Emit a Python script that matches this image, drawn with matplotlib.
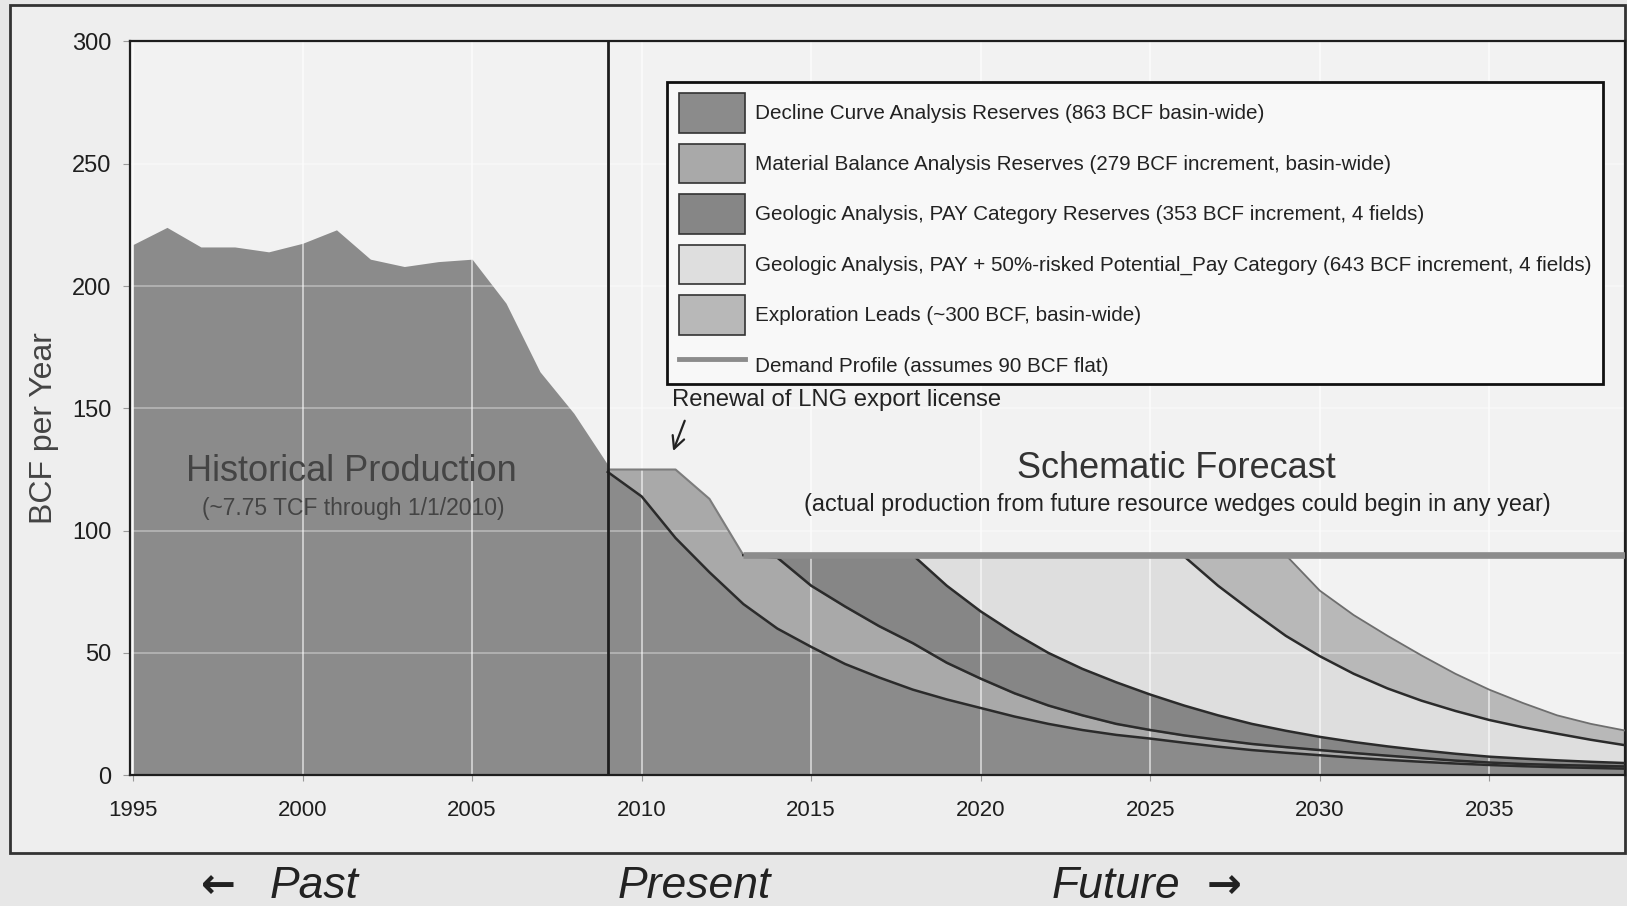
import numpy as np
import matplotlib
matplotlib.use("Agg")
import matplotlib.pyplot as plt
from matplotlib.patches import Patch, Rectangle
from matplotlib.lines import Line2D

NARROW = ["Liberation Sans Narrow", "Liberation Sans", "DejaVu Sans"]
SANS = ["Liberation Sans", "DejaVu Sans"]
plt.rcParams["font.family"] = SANS

# --- data (BCF per year) ---
hist_years = np.arange(1995, 2010)
hist_prod = [217, 224, 216, 216, 214, 217.5, 223, 211, 208, 210, 211, 193, 165, 148, 127]

fc_years = np.arange(2009, 2040)
# cumulative tops of each stacked wedge
decline_top = [124, 114, 97, 83, 70, 60, 52.5, 45.5, 40, 35, 31, 27.5, 24, 21, 18.5, 16.5,
               15, 13.3, 11.7, 10.3, 9.2, 8.2, 7.2, 6.3, 5.5, 4.8, 4.2, 3.7, 3.3, 3.0, 2.7]
matbal_top = [125, 125, 125, 113, 90, 89, 77.5, 69, 61, 54, 46, 39.5, 33.5, 28.5, 24.5, 21,
              18.5, 16.3, 14.5, 12.8, 11.5, 10.3, 9.1, 8.0, 7.0, 6.0, 5.2, 4.6, 4.2, 3.9, 3.6]
pay_top = [125, 125, 125, 113, 90, 90, 90, 90, 90, 90, 77.5, 67, 58, 50, 43.5, 38,
           33, 28.5, 24.5, 21, 18.2, 15.7, 13.6, 11.8, 10.2, 8.8, 7.6, 6.8, 6.1, 5.5, 5.0]
pay50_top = [125, 125, 125, 113, 90, 90, 90, 90, 90, 90, 90, 90, 90, 90, 90, 90,
             90, 89.5, 77.5, 67, 57, 48.7, 41.5, 35.5, 30.5, 26.3, 22.6, 19.6, 17, 14.5, 12.3]
leads_top = [125, 125, 125, 113, 90, 90, 90, 90, 90, 90, 90, 90, 90, 90, 90, 90,
             90, 90, 90, 90, 90, 75.5, 65.5, 57, 49, 41.5, 35, 29.5, 24.5, 21, 18.3]

demand_level = 90
demand_start = 2013
present_year = 2009

labels = [
    "Decline Curve Analysis Reserves (863 BCF basin-wide)",
    "Material Balance Analysis Reserves (279 BCF increment, basin-wide)",
    "Geologic Analysis, PAY Category Reserves (353 BCF increment, 4 fields)",
    "Geologic Analysis, PAY + 50%-risked Potential_Pay Category (643 BCF increment, 4 fields)",
    "Exploration Leads (~300 BCF, basin-wide)",
    "Demand Profile (assumes 90 BCF flat)",
]
colors = ["#8b8b8b", "#a9a9a9", "#868686", "#dedede", "#b8b8b8"]
C_HIST = "#8b8b8b"
C_DEMAND = "#8c8c8c"


def below_cap(top):
    top = np.asarray(top, dtype=float)
    m = top < demand_level - 0.1
    m[:-1] |= m[1:]
    return np.where(m, top, np.nan)


fig = plt.figure(figsize=(16.27, 9.06), dpi=100, facecolor="#e7e7e7")
fig.patches.append(Rectangle((0.0064, 0.0584), 0.9926, 0.9356, transform=fig.transFigure,
                             facecolor="#eeeeee", edgecolor="#333333", lw=2, zorder=-5))
ax = fig.add_axes([0.0797, 0.1443, 0.919, 0.8099])
ax.set_facecolor("#f2f2f2")

# historical production
ax.fill_between(hist_years, 0, hist_prod, color=C_HIST, lw=0, zorder=1)

# stacked forecast wedges
tops = [decline_top, matbal_top, pay_top, pay50_top, leads_top]
prev = np.zeros(len(fc_years))
for top, col in zip(tops, colors):
    ax.fill_between(fc_years, prev, top, color=col, lw=0, zorder=1)
    prev = np.asarray(top, dtype=float)

# wedge boundary lines
ax.plot(fc_years, matbal_top, color="#7d7d7d", lw=1.5, zorder=2)
ax.plot(fc_years, decline_top, color="#2b2b2b", lw=1.8, zorder=3)
for top in [matbal_top, pay_top, pay50_top]:
    ax.plot(fc_years, below_cap(top), color="#2b2b2b", lw=1.8, zorder=3)
ax.plot(fc_years, below_cap(leads_top), color="#6e6e6e", lw=1.3, zorder=3)

# demand profile
ax.plot([demand_start, fc_years[-1]], [demand_level, demand_level], color=C_DEMAND,
        lw=4.8, solid_capstyle="butt", zorder=4)

# present line
ax.axvline(present_year, color="#1e1e1e", lw=2, zorder=5)

ax.set_xlim(1994.9, 2039)
ax.set_ylim(0, 300)
ax.set_xticks(range(1995, 2040, 5))
ax.set_yticks(range(0, 301, 50))
ax.set_axisbelow("line")
ax.xaxis.grid(True, color="white", lw=1.3, alpha=0.6)
ax.yaxis.grid(True, color="white", lw=1.3, alpha=0.35)
ax.tick_params(axis="x", length=4, pad=14, color="#999999", labelsize=16, labelcolor="#1e1e1e")
ax.tick_params(axis="y", length=5, pad=8, color="#999999", labelsize=17, labelcolor="#1e1e1e")
for lab in ax.get_xticklabels() + ax.get_yticklabels():
    lab.set_family(NARROW)
for s in ax.spines.values():
    s.set_color("#1e1e1e")
    s.set_linewidth(1.6)

# annotations
ax.text(2001.45, 124, "Historical Production", ha="center", va="center", fontsize=26, color="#444444")
ax.text(2001.48, 109, "(~7.75 TCF through 1/1/2010)", ha="center", va="center", fontsize=16.5, color="#444444")
ax.text(2025.76, 125.6, "Schematic Forecast", ha="center", va="center", fontsize=26, color="#333333")
ax.text(2025.8, 110.7, "(actual production from future resource wedges could begin in any year)",
        ha="center", va="center", fontsize=16.8, color="#222222")
ax.text(2010.9, 153.6, "Renewal of LNG export license", ha="left", va="center", fontsize=17.2, color="#222222")
ax.annotate("", xy=(2010.9, 131.5), xytext=(2011.3, 146),
            arrowprops=dict(arrowstyle="->", color="#222222", lw=1.6, mutation_scale=22))

# legend (frame drawn separately so its box matches the original)
ax.add_patch(Rectangle((0.3595, 0.5332), 0.6259, 0.4116, transform=ax.transAxes,
                       facecolor="#f8f8f8", edgecolor="#111111", lw=2, zorder=5.5))
handles = [Patch(facecolor=c, edgecolor="#333333", lw=1.2, label=l) for c, l in zip(colors, labels[:5])]
handles.append(Line2D([], [], color=C_DEMAND, lw=3.5, label=labels[5]))
leg = ax.legend(handles=handles, loc="upper left", bbox_to_anchor=(0.3595, 0.9448), borderaxespad=0,
                fontsize=14.9, handlelength=3.2, handleheight=2.55, labelspacing=0.535, handletextpad=0.5,
                borderpad=0.55, frameon=False)
leg.set_zorder(6)
for t in leg.get_texts():
    t.set_color("#222222")

fig.text(0.027, 0.528, "BCF per Year", rotation=90, ha="center", va="center", fontsize=23, color="#444444")

# past / present / future captions
fig.text(0.134, 0.022, "\u2190", ha="center", va="center", fontsize=30, fontweight="bold",
         family="DejaVu Sans", color="#222222")
fig.text(0.193, 0.022, "Past", ha="center", va="center", fontsize=32, style="italic",
         family=NARROW, color="#222222")
fig.text(0.4267, 0.022, "Present", ha="center", va="center", fontsize=32, style="italic",
         family=NARROW, color="#222222")
fig.text(0.6856, 0.022, "Future", ha="center", va="center", fontsize=32, style="italic",
         family=NARROW, color="#222222")
fig.text(0.7526, 0.022, "\u2192", ha="center", va="center", fontsize=30, fontweight="bold",
         family="DejaVu Sans", color="#222222")

fig.savefig("out.png", dpi=100, facecolor=fig.get_facecolor())
